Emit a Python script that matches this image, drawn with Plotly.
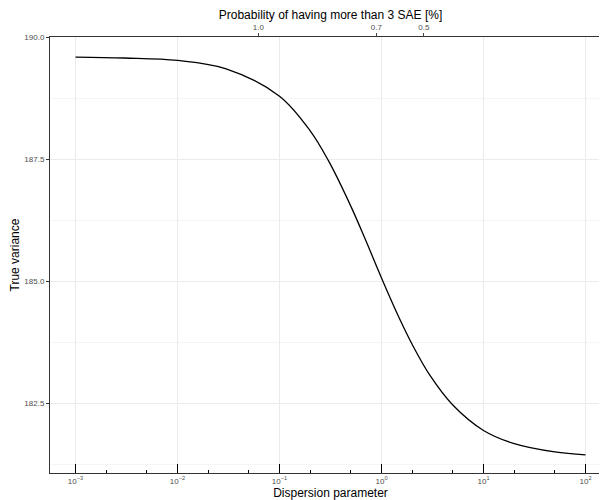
import plotly.graph_objects as go

# dispersion parameter vs true variance
dispersion = [0.001, 0.003, 0.01, 0.03, 0.1, 0.2, 0.3, 0.5, 0.7, 1, 1.5, 2, 3, 5, 10, 20, 50, 100]
true_var = [189.59, 189.57, 189.52, 189.35, 188.79, 188.08, 187.48, 186.54, 185.84, 185.07,
            184.24, 183.71, 183.07, 182.47, 181.95, 181.68, 181.51, 181.45]

# top axis: probability of having more than 3 SAE
prob_pos = [0.062, 0.89, 2.6]
prob_labels = ["1.0", "0.7", "0.5"]

fig = go.Figure()
fig.add_trace(go.Scatter(x=dispersion, y=true_var, mode="lines",
                         line=dict(color="black", width=1.3, shape="spline", smoothing=1.0),
                         showlegend=False))
fig.add_trace(go.Scatter(x=prob_pos, y=[None] * 3, xaxis="x2", showlegend=False, hoverinfo="skip"))

xr = [-3.25, 2.25]
fig.update_layout(
    width=607, height=500, plot_bgcolor="white", paper_bgcolor="white",
    margin=dict(l=42, r=4, t=29, b=35),
    font=dict(family="Liberation Sans", size=11, color="black"),
    xaxis=dict(type="log", range=xr, tickvals=[0.001, 0.01, 0.1, 1, 10, 100],
               ticktext=["10<sup>−3</sup>", "10<sup>−2</sup>", "10<sup>−1</sup>", "10<sup>0</sup>", "10<sup>1</sup>", "10<sup>2</sup>"],
               tickfont=dict(size=8, color="#4d4d4d"), ticks="inside", ticklen=9, tickcolor="black",
               minor=dict(ticks="inside", ticklen=3, tickcolor="black", showgrid=False),
               showgrid=True, gridcolor="#ebebeb", zeroline=False, automargin=False,
               showline=True, linecolor="#333333", mirror=True,
               title=dict(text="Dispersion parameter", font=dict(size=12), standoff=0)),
    xaxis2=dict(type="log", range=xr, overlaying="x", side="top", tickvals=prob_pos, ticktext=prob_labels,
                tickfont=dict(size=8, color="#4d4d4d"), ticks="outside", ticklen=3, showgrid=False,
                automargin=False,
                title=dict(text="Probability of having more than 3 SAE [%]", font=dict(size=12), standoff=0)),
    yaxis=dict(range=[181.08, 190], tickvals=[182.5, 185, 187.5, 190], ticktext=["182.5", "185.0", "187.5", "190.0"],
               tickfont=dict(size=8, color="#4d4d4d"), ticks="outside", ticklen=3, tickcolor="#333333",
               showgrid=True, gridcolor="#ebebeb", zeroline=False, automargin=False,
               minor=dict(dtick=1.25, showgrid=True, gridcolor="#f5f5f5"),
               showline=True, linecolor="#333333", mirror=True,
               title=dict(text="True variance", font=dict(size=12), standoff=2)),
)
fig.write_html("out.html")
